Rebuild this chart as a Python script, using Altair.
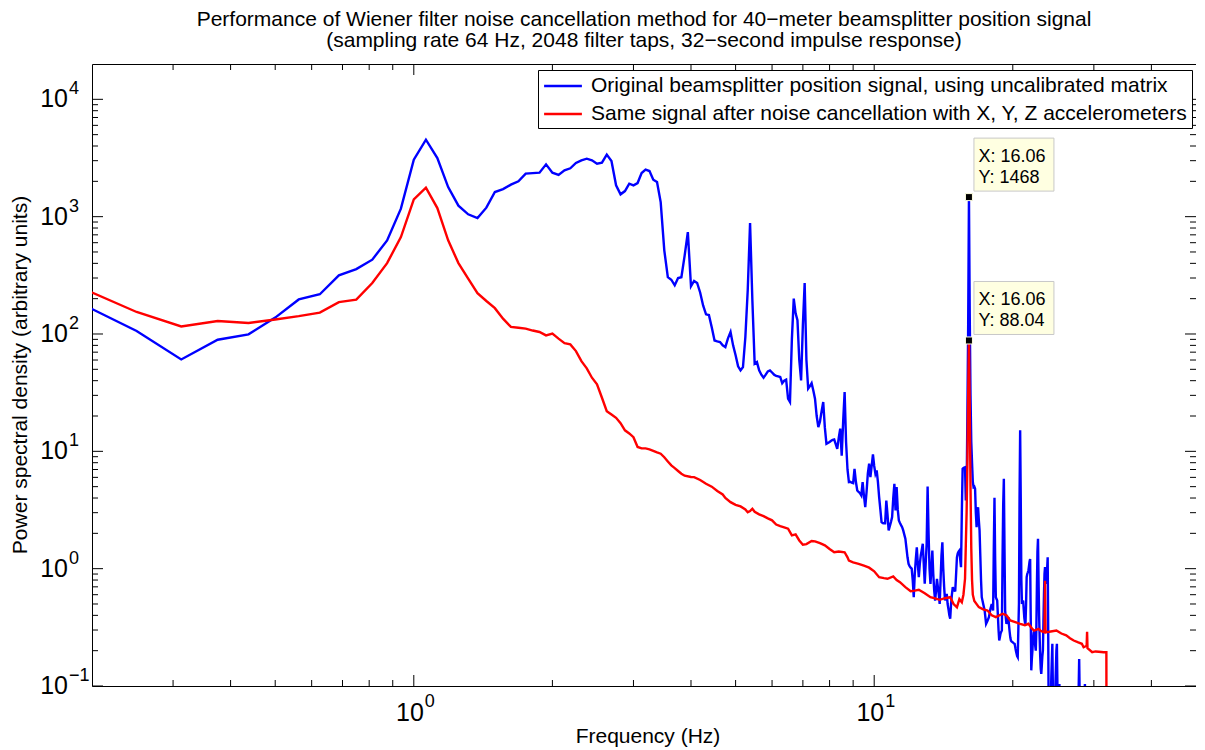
import altair as alt
import pandas as pd

# ---------------- data ----------------
blue_freq = [0.1875, 0.25, 0.3125, 0.375, 0.4375, 0.5, 0.5625, 0.625, 0.6875, 0.75,
             0.8125, 0.875, 0.9375, 1.0, 1.0625, 1.125, 1.1875, 1.25, 1.3125, 1.375,
             1.4375, 1.5, 1.5625, 1.625, 1.6875, 1.75, 1.8125, 1.875, 1.9375, 2.0,
             2.0625, 2.125, 2.1875, 2.25, 2.3125, 2.375, 2.4375, 2.5, 2.5625, 2.625,
             2.6875, 2.75, 2.8125, 2.875, 2.9375, 3.0, 3.0625, 3.125, 3.1875, 3.25,
             3.3125, 3.375, 3.4375, 3.5, 3.5625, 3.625, 3.6875, 3.75, 3.8125, 3.875,
             3.9375, 4.0, 4.0625, 4.125, 4.1875, 4.25, 4.3125, 4.375, 4.4375, 4.5,
             4.5625, 4.625, 4.6875, 4.75, 4.8125, 4.875, 4.9375, 5.0, 5.0625, 5.125,
             5.1875, 5.25, 5.3125, 5.375, 5.4375, 5.5, 5.5625, 5.625, 5.6875, 5.75,
             5.8125, 5.875, 5.9375, 6.0, 6.0625, 6.125, 6.1875, 6.25, 6.3125, 6.375,
             6.4375, 6.5, 6.5625, 6.625, 6.6875, 6.75, 6.8125, 6.875, 6.9375, 7.0,
             7.0625, 7.125, 7.1875, 7.25, 7.3125, 7.375, 7.4375, 7.5, 7.5625, 7.625,
             7.6875, 7.75, 7.8125, 7.875, 7.9375, 8.0, 8.0625, 8.125, 8.1875, 8.25,
             8.3125, 8.375, 8.4375, 8.5, 8.5625, 8.625, 8.6875, 8.75, 8.8125, 8.875,
             8.9375, 9.0, 9.0625, 9.125, 9.1875, 9.25, 9.3125, 9.375, 9.4375, 9.5,
             9.5625, 9.625, 9.6875, 9.75, 9.8125, 9.875, 9.9375, 10.0, 10.0625, 10.125,
             10.1875, 10.25, 10.3125, 10.375, 10.4375, 10.5, 10.5625, 10.625, 10.6875, 10.75,
             10.8125, 10.875, 10.9375, 11.0, 11.0625, 11.125, 11.1875, 11.25, 11.3125, 11.375,
             11.4375, 11.5, 11.5625, 11.625, 11.6875, 11.75, 11.8125, 11.875, 11.9375, 12.0,
             12.0625, 12.125, 12.1875, 12.25, 12.3125, 12.375, 12.4375, 12.5, 12.5625, 12.625,
             12.6875, 12.75, 12.8125, 12.875, 12.9375, 13.0, 13.0625, 13.125, 13.1875, 13.25,
             13.3125, 13.375, 13.4375, 13.5, 13.5625, 13.625, 13.6875, 13.75, 13.8125, 13.875,
             13.9375, 14.0, 14.0625, 14.125, 14.1875, 14.25, 14.3125, 14.375, 14.4375, 14.5,
             14.5625, 14.625, 14.6875, 14.75, 14.8125, 14.875, 14.9375, 15.0, 15.0625, 15.125,
             15.1875, 15.25, 15.3125, 15.375, 15.4375, 15.5, 15.5625, 15.625, 15.6875, 15.75,
             15.8125, 15.875, 15.9375, 16.0, 16.0625, 16.125, 16.1875, 16.25, 16.3125, 16.375,
             16.4375, 16.5, 16.5625, 16.625, 16.6875, 16.75, 16.8125, 16.875, 16.9375, 17.0,
             17.0625, 17.125, 17.25, 17.375, 17.5, 17.625, 17.75, 17.875, 18.0, 18.0625,
             18.125, 18.1875, 18.25, 18.3125, 18.375, 18.4375, 18.5, 18.5625, 18.625, 18.6875,
             18.75, 18.8125, 18.875, 18.9375, 19.0, 19.0625, 19.125, 19.1875, 19.25, 19.3125,
             19.375, 19.4375, 19.5, 19.5625, 19.625, 19.6875, 19.75, 19.8125, 19.875, 20.0,
             20.125, 20.1875, 20.3125, 20.4375, 20.5, 20.5625, 20.625, 20.6875, 20.75, 20.8125,
             20.875, 20.9375, 21.0, 21.0625, 21.125, 21.1875, 21.25, 21.3125, 21.375, 21.4375,
             21.5, 21.5625, 21.625, 21.6875, 21.75, 21.8125, 21.875, 21.9375, 22.0, 22.0625,
             22.125, 22.1875, 22.25, 22.3125, 22.375, 22.4375, 22.5, 22.5625, 22.625, 22.6875,
             22.75, 22.8125, 22.875, 22.9375, 23.0, 23.0625, 23.125, 23.1875, 23.25, 23.3125,
             23.375, 23.4375, 23.5, 23.5625, 23.625, 23.6875, 23.75, 23.8125, 23.875, 23.9375,
             24.0, 24.125, 24.25, 24.375, 24.4375, 24.5, 24.625, 24.75, 24.875, 24.9375,
             25.0, 25.0625, 25.125, 25.25, 25.3125, 25.5, 26.0, 26.5, 27.0, 27.5,
             27.75, 27.875, 28.0, 28.25, 28.5, 28.6875, 28.8125, 29.25, 30.0, 30.5,
             31.0, 31.5, 32.0]
blue_psd = [185, 106, 60.7, 89.4, 99.3, 138, 197, 218, 316, 357,
            430, 628, 1170, 3060, 4530, 3160, 1787, 1241, 1047, 973,
            1193, 1621, 1719, 1874, 2000, 2327, 2350, 2372, 2792, 2372,
            2265, 2483, 2582, 2866, 3020, 3120, 3020, 2830, 2885, 3380,
            2980, 1850, 1550, 1652, 1910, 1850, 1933, 2353, 2517, 2449,
            2066, 1972, 1331, 516, 305, 290, 260, 300, 305, 466,
            739, 255, 283, 272, 226, 175, 147, 145, 114, 88,
            86.5, 85.3, 80, 77.3, 91.7, 104, 80, 65.8, 53, 49,
            52.2, 94, 236, 882, 193, 55.8, 57.6, 49, 45, 42.4,
            45, 48, 49, 47, 45, 44, 43.5, 43, 38.1, 40,
            40.8, 28.1, 26.3, 90, 200, 150, 131, 60, 40.2, 120,
            272, 60, 34.3, 36, 38.1, 33, 28.1, 20, 16.1, 18,
            22, 26.3, 16, 11.6, 11.8, 12.0, 12.3, 12.5, 12.6, 11.5,
            10.5, 13, 15.6, 9.2, 18, 32.0, 12, 7, 5.47, 5.5,
            5.4, 5.35, 7.1, 5.5, 4.64, 4.5, 4.4, 4.21, 5.47, 4.2,
            3.34, 4.5, 6.5, 7.84, 6.03, 7.5, 9.41, 7.5, 6.44, 6.87,
            5.5, 4.07, 3.2, 2.49, 2.45, 2.44, 2.44, 3.81, 2.9, 2.12,
            2.3, 2.5, 2.75, 4.0, 5.29, 3.13, 4.95, 3.2, 2.58, 2.45,
            2.35, 2.26, 2.12, 1.95, 1.80, 1.5, 1.25, 1.10, 1.05, 1.02,
            1.0, 0.8, 0.571, 0.9, 1.2, 1.52, 1.1, 0.846, 1.10, 1.3,
            1.45, 1.63, 1.1, 0.743, 1.1, 1.63, 5.02, 2.0, 1.0, 0.743,
            1.0, 1.43, 0.9, 0.65, 0.535, 0.65, 0.82, 0.7, 0.6, 0.50,
            0.8, 1.3, 1.68, 1.0, 0.7, 0.535, 0.58, 0.611, 0.5, 0.45,
            0.4, 0.374, 0.5, 0.6, 0.696, 0.66, 0.65, 0.652, 0.9, 1.25,
            1.35, 1.4, 1.43, 1.2, 1.03, 3.0, 7.1, 7.2, 7.25, 7.3,
            3.81, 4.5, 20, 120, 1468, 150, 30, 12, 8, 5.5,
            4.95, 5.0, 4.8, 3.0, 2.26, 2.8, 3.34, 2.6, 2.12, 1.3,
            0.8, 0.571, 0.5, 0.44, 0.339, 0.36, 0.386, 0.45, 0.50, 0.47,
            0.44, 1.5, 4.02, 1.2, 0.571, 0.55, 0.535, 0.4, 0.3, 0.244,
            0.26, 0.28, 0.29, 0.297, 1.2, 3.5, 5.83, 1.5, 0.44, 0.38,
            0.339, 0.35, 0.37, 0.386, 0.33, 0.29, 0.26, 0.244, 0.24, 0.235,
            0.23, 0.229, 0.2, 0.18, 0.176, 0.3, 0.50, 4, 15.1, 4,
            0.8, 0.50, 0.52, 0.535, 0.45, 0.38, 0.35, 0.339, 0.5, 0.846,
            0.9, 0.93, 0.965, 1.05, 1.15, 1.21, 0.4, 0.136, 0.17, 0.20,
            0.25, 0.28, 0.297, 0.25, 0.22, 0.20, 0.3, 0.7, 1.4, 1.80,
            0.8, 0.4, 0.261, 0.18, 0.14, 0.127, 0.15, 0.18, 0.20, 0.35,
            0.6, 0.9, 1.03, 0.9, 0.8, 0.743, 1.0, 1.25, 0.3, 0.05,
            0.04, 0.05, 0.12, 0.229, 0.1, 0.05, 0.06, 0.1, 0.2, 0.229,
            0.1, 0.05, 0.07, 0.104, 0.06, 0.04, 0.03, 0.035, 0.03, 0.04,
            0.06, 0.17, 0.05, 0.04, 0.05, 0.104, 0.04, 0.03, 0.025, 0.02,
            0.02, 0.015, 0.01]

red_freq = [0.1875, 0.25, 0.3125, 0.375, 0.4375, 0.5, 0.5625, 0.625, 0.6875, 0.75,
            0.8125, 0.875, 0.9375, 1.0, 1.0625, 1.125, 1.1875, 1.25, 1.3125, 1.375,
            1.4375, 1.5, 1.5625, 1.625, 1.6875, 1.75, 1.8125, 1.875, 1.9375, 2.0,
            2.0625, 2.125, 2.1875, 2.25, 2.3125, 2.375, 2.4375, 2.5, 2.5625, 2.625,
            2.6875, 2.75, 2.8125, 2.875, 2.9375, 3.0, 3.0625, 3.125, 3.1875, 3.25,
            3.3125, 3.375, 3.4375, 3.5, 3.5625, 3.625, 3.6875, 3.75, 3.8125, 3.875,
            4.0, 4.0625, 4.1875, 4.3125, 4.4375, 4.5625, 4.6875, 4.75, 4.875, 5.0,
            5.125, 5.25, 5.3125, 5.375, 5.4375, 5.5, 5.625, 5.75, 5.875, 6.0,
            6.125, 6.25, 6.375, 6.5, 6.625, 6.75, 6.875, 7.0, 7.125, 7.3125,
            7.4375, 7.625, 7.8125, 8.0, 8.1875, 8.375, 8.625, 8.75, 8.8125, 9.0,
            9.25, 9.5, 9.75, 10.0, 10.25, 10.5, 10.6875, 11.0, 11.1875, 11.375,
            11.6875, 12.0, 12.25, 12.5, 12.875, 13.25, 13.5, 13.875, 14.25, 14.625,
            14.875, 15.125, 15.3125, 15.5, 15.625, 15.75, 15.8125, 15.875, 15.9375, 16.0,
            16.0625, 16.125, 16.1875, 16.25, 16.3125, 16.375, 16.5, 16.875, 17.25, 17.625,
            18.0, 18.375, 19.0, 19.375, 19.75, 20.25, 20.75, 21.25, 21.625, 22.0,
            22.25, 22.75, 23.0, 23.4375, 23.5, 23.5625, 24.0, 24.875, 25.5, 26.125,
            26.625, 27.125, 27.75, 28.25, 28.5, 28.9375, 29.0, 29.0625, 29.75, 30.25,
            30.75, 31.5, 31.9375, 32.0]
red_psd = [252, 154, 116, 129, 124, 133, 142, 152, 187, 196,
           272, 402, 670, 1403, 1766, 1184, 628, 402, 296, 223,
           191, 166, 135, 115, 113, 111, 107, 104, 97.3, 100.6,
           91.3, 83.6, 81.5, 71.5, 58.7, 50.9, 42.4, 37.2, 28.6, 22.0,
           20.6, 19.3, 17.4, 15.1, 14.2, 13.2, 10.9, 10.6, 10.6, 10.4,
           10.1, 9.8, 9.55, 8.9, 8.2, 7.59, 7.2, 6.8, 6.44, 6.2,
           6.05, 6.03, 5.7, 5.29, 5.0, 4.6, 4.29, 4.0, 3.69, 3.5,
           3.39, 3.2, 3.03, 3.1, 3.24, 3.05, 2.90, 2.8, 2.68, 2.58,
           2.38, 2.3, 2.25, 2.19, 1.92, 1.96, 1.74, 1.60, 1.62, 1.72,
           1.71, 1.65, 1.58, 1.47, 1.38, 1.40, 1.38, 1.25, 1.17, 1.13,
           1.10, 1.06, 1.02, 0.95, 0.846, 0.83, 0.820, 0.858, 0.8, 0.767,
           0.696, 0.643, 0.65, 0.661, 0.618, 0.571, 0.56, 0.543, 0.56, 0.571,
           0.5, 0.469, 0.55, 0.518, 0.6, 0.82, 1.6, 3.0, 8.0, 30,
           88.04, 25, 5, 1.5, 0.8, 0.6, 0.53, 0.47, 0.45, 0.44,
           0.40, 0.386, 0.413, 0.40, 0.362, 0.35, 0.339, 0.33, 0.339, 0.31,
           0.297, 0.307, 0.295, 0.287, 0.79, 0.287, 0.29, 0.297, 0.28, 0.27,
           0.255, 0.244, 0.235, 0.229, 0.214, 0.22, 0.29, 0.21, 0.194, 0.197,
           0.196, 0.194, 0.194, 0.001]

series_names = ["Original beamsplitter position signal, using uncalibrated matrix",
                "Same signal after noise cancellation with X, Y, Z accelerometers"]
series_colors = ["#0000FF", "#FF0000"]

title_lines = ["Performance of Wiener filter noise cancellation method for 40\u2212meter beamsplitter position signal",
               "(sampling rate 64 Hz, 2048 filter taps, 32\u2212second impulse response)"]
x_title = "Frequency (Hz)"
y_title = "Power spectral density (arbitrary units)"

x_major = [1, 10]
x_exps = ["0", "1"]
x_minor = [0.3, 0.4, 0.5, 0.6, 0.7, 0.8, 0.9, 2, 3, 4, 5, 6, 7, 8, 9, 20, 30, 40]
y_major = [0.1, 1, 10, 100, 1000, 10000]
y_exps = ["\u22121", "0", "1", "2", "3", "4"]
y_minor = [0.2, 0.3, 0.4, 0.5, 0.6, 0.7, 0.8, 0.9,
           2, 3, 4, 5, 6, 7, 8, 9,
           20, 30, 40, 50, 60, 70, 80, 90,
           200, 300, 400, 500, 600, 700, 800, 900,
           2000, 3000, 4000, 5000, 6000, 7000, 8000, 9000]

tip_freq = [16.0625, 16.0625]
tip_psd = [1468, 88.04]
tip_x_text = ["X: 16.06", "X: 16.06"]
tip_y_text = ["Y: 1468", "Y: 88.04"]

# ---------------- chart ----------------
W, H = 1104, 622
FONT = "Liberation Sans"

xs = alt.Scale(type="log", domain=[0.2, 50], nice=False)
ys = alt.Scale(type="log", domain=[0.1, 20000], nice=False)

df = pd.concat([
    pd.DataFrame({"freq": blue_freq, "psd": blue_psd, "series": series_names[0]}),
    pd.DataFrame({"freq": red_freq, "psd": red_psd, "series": series_names[1]}),
], ignore_index=True)

lines = alt.Chart(df).mark_line(clip=True, strokeWidth=2.4).encode(
    x=alt.X("freq:Q", scale=xs, axis=None),
    y=alt.Y("psd:Q", scale=ys, axis=None),
    color=alt.Color("series:N",
                    scale=alt.Scale(domain=series_names, range=series_colors),
                    legend=alt.Legend(title=None, orient="none", legendX=446, legendY=6,
                                      fillColor="white", strokeColor="black", padding=4,
                                      cornerRadius=0, symbolType="M-1.8,0L1.8,0",
                                      symbolSize=441, symbolOffset=9,
                                      symbolStrokeWidth=2.5, labelFont=FONT, labelFontSize=21,
                                      labelColor="black", labelOffset=16, labelLimit=1000,
                                      rowPadding=6)),
)


def xticks(values, length, top):
    d = pd.DataFrame({"t": values})
    return alt.Chart(d).mark_rule(color="black", strokeWidth=1).encode(
        x=alt.X("t:Q", scale=xs, axis=None),
        y=alt.value(0 if top else H),
        y2=alt.value(length if top else H - length),
    )


def yticks(values, length, right):
    d = pd.DataFrame({"t": values})
    return alt.Chart(d).mark_rule(color="black", strokeWidth=1).encode(
        y=alt.Y("t:Q", scale=ys, axis=None),
        x=alt.value(W if right else 0),
        x2=alt.value(W - length if right else length),
    )


ticks = [xticks(x_major, 11, False), xticks(x_minor, 6, False),
         xticks(x_major, 11, True), xticks(x_minor, 6, True),
         yticks(y_major, 11, False), yticks(y_minor, 6, False),
         yticks(y_major, 11, True), yticks(y_minor, 6, True)]

ylab = pd.DataFrame({"v": y_major, "e": y_exps})
y_base = alt.Chart(ylab).mark_text(align="right", baseline="middle", font=FONT,
                                   fontSize=25, color="black").encode(
    x=alt.value(-24), y=alt.Y("v:Q", scale=ys, axis=None), text=alt.value("10"))
y_exp = alt.Chart(ylab).mark_text(align="left", baseline="middle", font=FONT,
                                  fontSize=18, color="black", dy=-10).encode(
    x=alt.value(-23), y=alt.Y("v:Q", scale=ys, axis=None), text="e:N")

xlab = pd.DataFrame({"v": x_major, "e": x_exps})
x_base = alt.Chart(xlab).mark_text(align="right", baseline="middle", font=FONT,
                                   fontSize=25, color="black", dx=10).encode(
    x=alt.X("v:Q", scale=xs, axis=None), y=alt.value(H + 26.5), text=alt.value("10"))
x_exp = alt.Chart(xlab).mark_text(align="left", baseline="middle", font=FONT,
                                  fontSize=18, color="black", dx=11).encode(
    x=alt.X("v:Q", scale=xs, axis=None), y=alt.value(H + 16), text="e:N")

# axis titles
titles_df = pd.DataFrame({"xt": [x_title], "yt": [y_title]})
x_title_mark = alt.Chart(titles_df).mark_text(align="center", baseline="middle", font=FONT,
                                              fontSize=21, color="black").encode(
    x=alt.value(556), y=alt.value(H + 51), text="xt:N")
y_title_mark = alt.Chart(titles_df).mark_text(align="center", baseline="middle", font=FONT,
                                              fontSize=21, color="black", angle=270).encode(
    x=alt.value(-71), y=alt.value(H / 2), text="yt:N")

tips = pd.DataFrame({"freq": tip_freq, "psd": tip_psd, "lx": tip_x_text, "ly": tip_y_text})
tip_pos = dict(x=alt.X("freq:Q", scale=xs, axis=None), y=alt.Y("psd:Q", scale=ys, axis=None))
tip_box = alt.Chart(tips).mark_rect(fill="#FFFFE1", stroke="#C8C8C8", strokeWidth=1,
                                    xOffset=5, x2Offset=85, yOffset=-59, y2Offset=-6).encode(
    x2="freq:Q", y2="psd:Q", **tip_pos)
tip_mark = alt.Chart(tips).mark_square(size=49, filled=True, color="black", opacity=1,
                                       stroke="#FFFFE1", strokeWidth=1).encode(**tip_pos)
tip_t1 = alt.Chart(tips).mark_text(align="left", baseline="alphabetic", font=FONT, fontSize=18,
                                   color="black", dx=9.5, dy=-35).encode(text="lx:N", **tip_pos)
tip_t2 = alt.Chart(tips).mark_text(align="left", baseline="alphabetic", font=FONT, fontSize=18,
                                   color="black", dx=9.5, dy=-14).encode(text="ly:N", **tip_pos)

chart = alt.layer(lines, *ticks, y_base, y_exp, x_base, x_exp, x_title_mark, y_title_mark,
                  tip_box, tip_mark, tip_t1, tip_t2).properties(
    width=W, height=H,
    title=alt.TitleParams(text=title_lines, font=FONT, fontSize=21, fontWeight="normal",
                          color="black", anchor="middle", offset=13, lineHeight=21),
    autosize=alt.AutoSizeParams(type="none"),
    padding={"left": 84, "top": 56, "right": 0, "bottom": 63},
    background="white",
).configure_view(stroke="black", strokeWidth=1)

chart.save("out.html", embed_options={"renderer": "svg", "actions": False})
